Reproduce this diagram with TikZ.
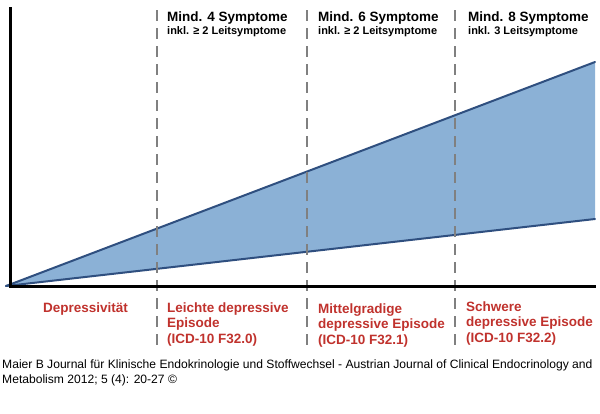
\documentclass[tikz,border=0pt]{standalone}
\usepackage{fontspec}
\setmainfont{Liberation Sans}
\usetikzlibrary{positioning}
\definecolor{flaeche}{RGB}{139,177,214}
\definecolor{rand}{RGB}{47,79,127}
\definecolor{stufenrot}{RGB}{192,50,45}
\begin{document}
\begin{tikzpicture}[x=1pt,y=-1pt,
    grenze/.style={draw=gray,line width=2pt,dash pattern=on 11pt off 7pt},
    achse/.style={draw=black,line width=3pt},
    trend/.style={draw=rand,line width=2pt,line cap=round},
    kopf/.style={anchor=base west,inner sep=0pt,font=\bfseries\fontsize{13.5}{16}\selectfont},
    unter/.style={anchor=base west,inner sep=0pt,font=\bfseries\fontsize{11}{13}\selectfont},
    stufe/.style={anchor=base west,inner sep=0pt,align=left,text=stufenrot,
      font=\bfseries\fontsize{13.5}{15.5}\selectfont},
    quelle/.style={anchor=base west,inner sep=0pt,align=left,
      font=\fontsize{12.1}{15}\selectfont}]
  \useasboundingbox (0,0) rectangle (600,413);
  % Eckpunkte
  \coordinate (ursprung) at (6,286);
  \coordinate (oben) at (595,62);
  \coordinate (unten) at (595,219);
  \coordinate (achsoben) at (10,7);
  \coordinate (achsecke) at (10,286);
  \coordinate (achsrechts) at (596,286);
  % Flaeche zwischen den Geraden
  \fill[flaeche] (ursprung) -- (oben) -- (unten) -- cycle;
  \draw[trend] (ursprung) -- (oben);
  \draw[trend] (ursprung) -- (unten);
  % Grenzen
  \foreach \g/\x in {a/157,b/307,c/455} {
    \coordinate (\g-top) at (\x,10);
    \coordinate (\g-bot) at (\x,346);
    \draw[grenze] (\g-top) -- (\g-bot);
  }
  \draw[achse] (achsoben) -- (achsecke) -- (achsrechts);
  % Kopfzeilen
  \node[kopf] (k4) at (167,21) {Mind. 4 Symptome};
  \node[unter] (u4) at (167,34) {inkl. ≥ 2 Leitsymptome};
  \node[kopf] (k6) at (318,21) {Mind. 6 Symptome};
  \node[unter] (u6) at (318,34) {inkl. ≥ 2 Leitsymptome};
  \node[kopf] (k8) at (468,21) {Mind. 8 Symptome};
  \node[unter] (u8) at (468,34) {inkl. 3 Leitsymptome};
  % Stufen (Anker an der letzten Zeile)
  \node[stufe] (s0) at (43,312) {Depressivität};
  \node[stufe] (s1) at (167,343) {Leichte depressive\\Episode\\(ICD-10 F32.0)};
  \node[stufe] (s2) at (318,344) {Mittelgradige\\depressive Episode\\(ICD-10 F32.1)};
  \node[stufe] (s3) at (466,342) {Schwere\\depressive Episode\\(ICD-10 F32.2)};
  % Quelle
  \node[quelle] (quelle) at (2,383) {Maier B Journal für Klinische Endokrinologie und Stoffwechsel - Austrian Journal of Clinical Endocrinology and\\Metabolism 2012; 5 (4): 20-27 ©};
\end{tikzpicture}
\end{document}
